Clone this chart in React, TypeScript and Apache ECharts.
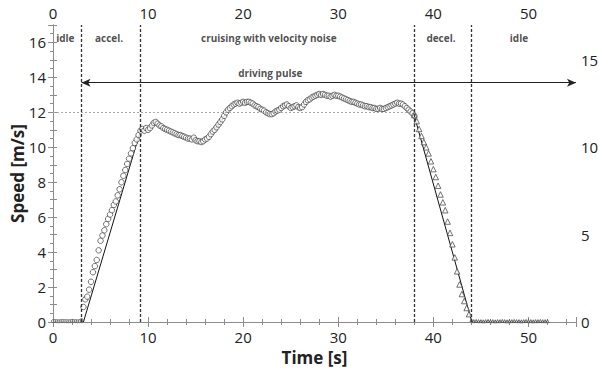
import React, { useEffect, useRef } from "react";
import * as echarts from "echarts";

// measured speed (circles), sampled every 0.2 s starting at t = 0
const circleStart = 0;
const circleStep = 0.2;
const circleSpeed = [
  0.05, 0.06, 0.05, 0.04, 0.05, 0.06, 0.05, 0.05, 0.04, 0.05,
  0.06, 0.05, 0.05, 0.04, 0.05, 0.12, 0.86, 1.3, 1.45, 1.85,
  2.3, 2.85, 3.2, 3.55, 4.1, 4.65, 4.95, 5.25, 5.6, 5.9,
  6.15, 6.4, 6.7, 6.9, 7.25, 7.6, 8.0, 8.37, 8.7, 9.05,
  9.35, 9.65, 9.95, 10.25, 10.45, 10.7, 10.95, 11.05, 10.95, 11.1,
  11.0, 11.1, 11.25, 11.4, 11.45, 11.35, 11.25, 11.2, 11.1, 11.05,
  11.0, 10.95, 10.9, 10.85, 10.8, 10.75, 10.7, 10.7, 10.65, 10.6,
  10.55, 10.5, 10.5, 10.45, 10.55, 10.4, 10.35, 10.35, 10.3, 10.35,
  10.45, 10.5, 10.6, 10.75, 10.9, 11.0, 11.15, 11.3, 11.45, 11.6,
  11.8, 12.0, 12.15, 12.25, 12.35, 12.45, 12.5, 12.55, 12.5, 12.55,
  12.6, 12.55, 12.6, 12.6, 12.55, 12.5, 12.4, 12.35, 12.3, 12.2,
  12.15, 12.1, 12.0, 11.95, 11.9, 11.9, 11.95, 12.05, 12.1, 12.15,
  12.25, 12.35, 12.4, 12.45, 12.35, 12.25, 12.3, 12.35, 12.4, 12.3,
  12.25, 12.3, 12.45, 12.6, 12.7, 12.75, 12.85, 12.9, 12.95, 13.0,
  13.05, 13.0, 13.05, 13.0, 12.95, 12.95, 12.9, 12.95, 13.0, 12.95,
  12.95, 12.9, 12.85, 12.8, 12.75, 12.7, 12.65, 12.6, 12.6, 12.55,
  12.5, 12.45, 12.45, 12.4, 12.35, 12.35, 12.3, 12.3, 12.25, 12.25,
  12.2, 12.2, 12.25, 12.2, 12.2, 12.25, 12.3, 12.35, 12.4, 12.45,
  12.5, 12.55, 12.5, 12.5, 12.45, 12.35, 12.25, 12.15, 12.05, 11.95,
  11.8,
];

// measured speed during deceleration and idle (triangles), every 0.25 s from t = 38
const triangleStart = 38;
const triangleStep = 0.25;
const triangleSpeed = [
  11.85, 11.5, 11.05, 10.65, 10.3, 10.0, 9.65, 9.2, 8.75, 8.3,
  7.8, 7.3, 6.85, 6.4, 5.75, 5.1, 4.45, 3.7, 2.9, 2.15,
  1.6, 1.2, 0.8, 0.45, 0.1,
  0.05, 0.06, 0.05, 0.05, 0.04, 0.05, 0.06, 0.05, 0.05, 0.04,
  0.05, 0.05, 0.06, 0.05, 0.04, 0.05, 0.05, 0.06, 0.05, 0.05,
  0.04, 0.05, 0.06, 0.05, 0.05, 0.04, 0.05, 0.05, 0.06, 0.05,
  0.05, 0.05,
];

// model (driving pulse) knots outside the cruising phase
const rampTimes = [0, 3.2, 9.2];
const rampSpeeds = [0, 0, 10.95];
const decelTimes = [38, 44.05, 52];
const decelSpeeds = [11.8, 0, 0];

// phase boundaries and annotations
const phaseBounds = [3, 9.2, 38, 44];
const phaseNames = ["idle", "accel.", "cruising with velocity noise", "decel.", "idle"];
const phaseCenters = [1.3, 5.9, 22.7, 40.8, 49.0];
const phaseLabelY = 16.24;
const pulseLabel = "driving pulse";
const pulseLabelPos = [22.85, 14.24];
const pulseArrow = { from: 3, to: 55, y: 13.7 };
const refSpeed = { value: 12, until: 38 };

const xTicksMax = 55;
const yMax = 17;

const FONT = "Open Sans";
const AXIS_GRAY = "#8c8c8c";
const TEXT = "#222";

export default function App() {
  const ref = useRef<HTMLDivElement>(null);

  useEffect(() => {
    if (!ref.current) return;
    const chart = echarts.init(ref.current, null, { renderer: "svg" });

    const circles = circleSpeed.map((v, i) => [
      +(circleStart + i * circleStep).toFixed(2),
      v,
    ]);
    const triangles = triangleSpeed.map((v, i) => [
      +(triangleStart + i * triangleStep).toFixed(2),
      v,
    ]);
    const cruise = circles.filter((p) => p[0] > rampTimes[2] && p[0] < decelTimes[0]);
    const model = [
      ...rampTimes.map((t, i) => [t, rampSpeeds[i]]),
      ...cruise,
      ...decelTimes.map((t, i) => [t, decelSpeeds[i]]),
    ];
    const labels = phaseNames.map((n, i) => [phaseCenters[i], phaseLabelY, n]);
    labels.push([pulseLabelPos[0], pulseLabelPos[1], pulseLabel]);

    const xAxisBase = (position: string) => ({
      type: "value",
      position,
      min: 0,
      max: xTicksMax,
      interval: 10,
      axisLine: { show: true, lineStyle: { color: AXIS_GRAY, width: 1 } },
      axisTick: { show: true, inside: false, length: 5, lineStyle: { color: AXIS_GRAY } },
      minorTick: { show: true, splitNumber: 5, length: 3, lineStyle: { color: AXIS_GRAY } },
      splitLine: { show: false },
      axisLabel: {
        color: TEXT,
        fontSize: 15,
        fontFamily: FONT,
        showMaxLabel: false,
        margin: position === "top" ? 5 : 7,
      },
    });

    const markerStyle = {
      color: "#fff",
      borderColor: "#3a3a3a",
      borderWidth: 0.9,
    };

    chart.setOption({
      animation: false,
      backgroundColor: "#fff",
      grid: {
        left: 53,
        right: 22,
        top: 25,
        bottom: 46,
        containLabel: false,
        outerBoundsMode: "none",
      },
      xAxis: [
        {
          ...xAxisBase("bottom"),
          name: "Time [s]",
          nameLocation: "middle",
          nameGap: 27,
          nameMoveOverlap: false,
          nameTextStyle: { color: TEXT, fontSize: 17, fontWeight: "bold", fontFamily: FONT },
        },
        { ...xAxisBase("top") },
      ],
      yAxis: [
        {
          type: "value",
          position: "left",
          min: 0,
          max: yMax,
          interval: 2,
          name: "Speed [m/s]",
          nameLocation: "middle",
          nameGap: 27,
          nameMoveOverlap: false,
          nameTextStyle: { color: TEXT, fontSize: 17, fontWeight: "bold", fontFamily: FONT },
          axisLine: { show: true, lineStyle: { color: AXIS_GRAY, width: 1 } },
          axisTick: { show: true, length: 5, lineStyle: { color: AXIS_GRAY } },
          minorTick: { show: true, splitNumber: 4, length: 3, lineStyle: { color: AXIS_GRAY } },
          splitLine: { show: false },
          axisLabel: { color: TEXT, fontSize: 15, fontFamily: FONT, showMaxLabel: false, margin: 7 },
        },
        {
          type: "value",
          position: "right",
          min: 0,
          max: yMax,
          interval: 1,
          axisLine: { show: true, lineStyle: { color: AXIS_GRAY, width: 1 } },
          axisTick: { show: true, length: 4, lineStyle: { color: AXIS_GRAY } },
          splitLine: { show: false },
          axisLabel: {
            color: TEXT,
            fontSize: 15,
            fontFamily: FONT,
            margin: 5,
            formatter: (v: number) => (v % 5 === 0 ? String(v) : ""),
          },
        },
      ],
      series: [
        {
          type: "line",
          name: "model",
          data: model,
          symbol: "none",
          lineStyle: { color: "#111", width: 1 },
          z: 2,
          silent: true,
          markLine: {
            silent: true,
            symbol: ["none", "none"],
            label: { show: false },
            lineStyle: { color: "#333", width: 1.3, type: [3, 2] },
            data: phaseBounds.map((b) => ({ xAxis: b })),
          },
        },
        {
          type: "scatter",
          name: "measured",
          data: circles,
          symbol: "circle",
          symbolSize: (v: number[]) => (v[1] < 0.3 ? 3 : 5.5),
          itemStyle: markerStyle,
          z: 3,
          silent: true,
          markLine: {
            silent: true,
            symbol: ["none", "none"],
            label: { show: false },
            lineStyle: { color: "#aaa", width: 1, type: [2, 2] },
            data: [[{ coord: [0, refSpeed.value] }, { coord: [refSpeed.until, refSpeed.value] }]],
          },
        },
        {
          type: "scatter",
          name: "decel",
          data: triangles,
          symbol: "triangle",
          symbolSize: (v: number[]) => (v[1] < 0.3 ? 3 : 5.5),
          itemStyle: markerStyle,
          z: 3,
          silent: true,
          markLine: {
            silent: true,
            symbol: ["arrow", "arrow"],
            symbolSize: [6, 9],
            label: { show: false },
            lineStyle: { color: "#222", width: 1, type: "solid" },
            itemStyle: { color: "#222" },
            data: [[{ coord: [pulseArrow.from, pulseArrow.y] }, { coord: [pulseArrow.to, pulseArrow.y] }]],
          },
        },
        {
          type: "scatter",
          name: "labels",
          data: labels,
          symbolSize: 1,
          itemStyle: { color: "transparent" },
          silent: true,
          z: 4,
          label: {
            show: true,
            position: "inside",
            formatter: (p: any) => p.value[2],
            color: TEXT,
            fontSize: 10,
            fontWeight: "bold",
            fontFamily: FONT,
          },
        },
      ],
    });

    return () => chart.dispose();
  }, []);

  return (
    <div
      ref={ref}
      style={{ position: "fixed", left: 0, top: 0, width: 598, height: 368, background: "#fff" }}
    />
  );
}
